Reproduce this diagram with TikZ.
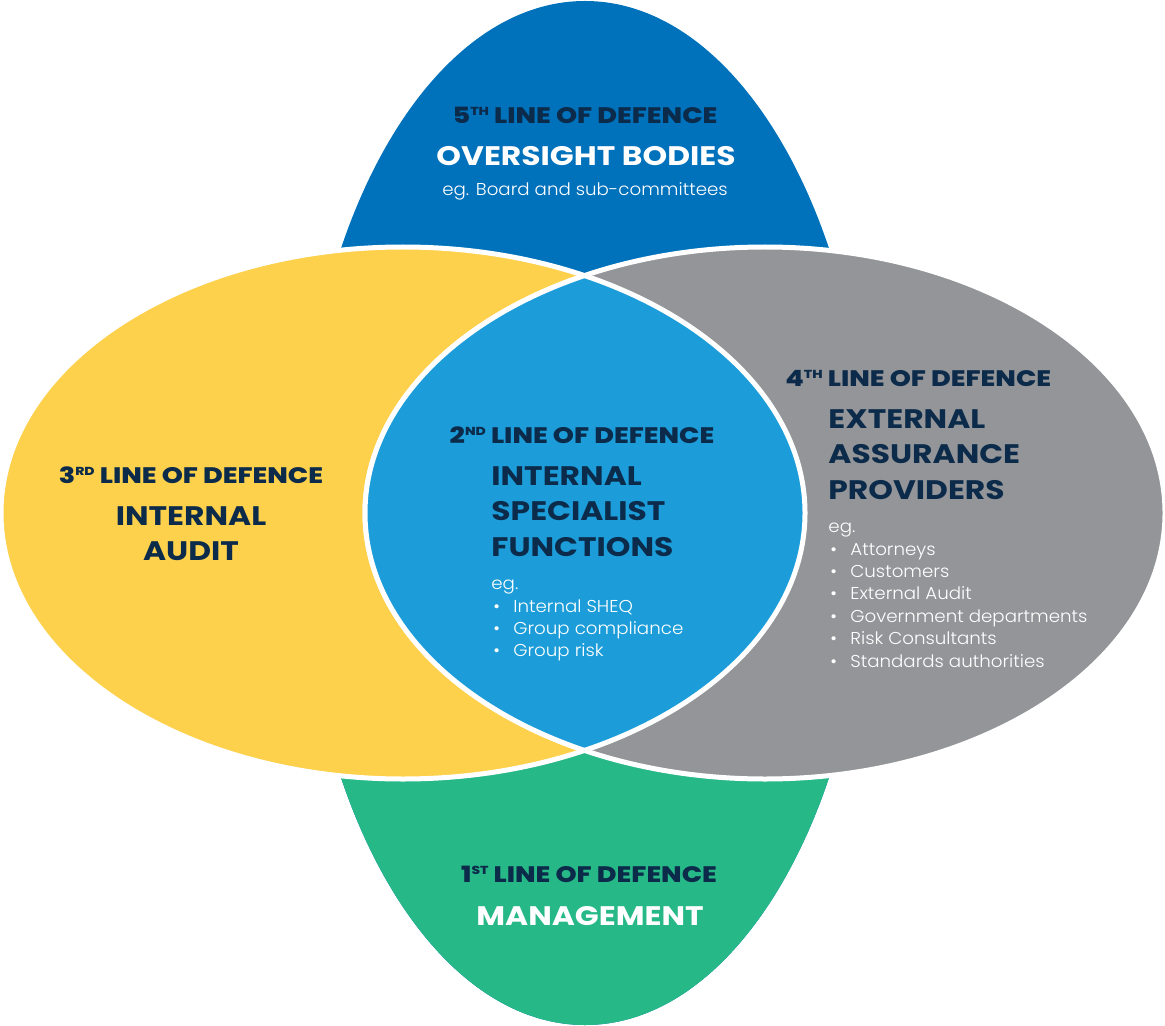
\documentclass[tikz,border=0pt]{standalone}
\usepackage{fontspec}
\setmainfont{Poppins}
\newfontfamily\headfont{Poppins ExtraBold}[FakeStretch=1.2]
\newfontfamily\titlefont{Poppins}[FakeStretch=1.17]
\newfontfamily\lightfont{Poppins Light}[FakeStretch=1.06]
\usetikzlibrary{positioning}
\definecolor{topblue}{HTML}{0071BB}
\definecolor{lensblue}{HTML}{1C9DD9}
\definecolor{sunyellow}{HTML}{FDD14C}
\definecolor{stonegray}{HTML}{939598}
\definecolor{leafgreen}{HTML}{26B886}
\definecolor{navy}{HTML}{0C2B4A}
\newcommand{\lsup}[1]{\raisebox{4pt}{\fontsize{5.8}{6}\selectfont #1}}
\tikzset{rim/.style = {draw=white, line width=2.5pt}}
\tikzset{lod/.style = {inner sep=0, anchor=base, text=navy, font=\headfont\fontsize{11.2}{12}\selectfont}}
\tikzset{ttl/.style = {inner sep=0, anchor=base, text=navy, font=\titlefont\bfseries\fontsize{13.4}{14}\selectfont}}
\tikzset{body/.style = {inner sep=0, anchor=base, text=white, font=\lightfont\fontsize{8.6}{10}\selectfont}}
\tikzset{item/.style = {body, anchor=base west}}

\begin{document}
\begin{tikzpicture}[x=0.5pt, y=-0.5pt]
  \useasboundingbox (0,0) rectangle (1165,1026);

  % oversight / management ellipse
  \fill[topblue] (585,513) ellipse [x radius=285, y radius=512];
  \begin{scope}
    \clip (0,513) rectangle (1165,1026);
    \fill[leafgreen] (585,513) ellipse [x radius=285, y radius=512];
  \end{scope}

  % internal audit and external assurance
  \draw[rim, fill=sunyellow] (403,513) ellipse [x radius=402, y radius=266];
  \draw[rim, fill=stonegray] (765,513) ellipse [x radius=400, y radius=266];

  % overlap
  \begin{scope}
    \clip (403,513) ellipse [x radius=402, y radius=266];
    \draw[rim, fill=lensblue] (765,513) ellipse [x radius=400, y radius=266];
  \end{scope}
  \begin{scope}
    \clip (765,513) ellipse [x radius=400, y radius=266];
    \draw[rim] (403,513) ellipse [x radius=402, y radius=266];
  \end{scope}

  % 5th line
  \node [lod] (lod5) at (585,124) {5\lsup{TH} LINE OF DEFENCE};
  \node [ttl, text=white] (oversight) at (586,166) {OVERSIGHT BODIES};
  \node [body] (board) at (585,196) {eg. Board and sub-committees};

  % 3rd line
  \node [lod] (lod3) at (191,483) {3\lsup{RD} LINE OF DEFENCE};
  \node [ttl] (audit1) at (191,525) {INTERNAL};
  \node [ttl] (audit2) at (191,560) {AUDIT};

  % 2nd line
  \node [lod] (lod2) at (582,443) {2\lsup{ND} LINE OF DEFENCE};
  \node [ttl, anchor=base west] (spec1) at (491,485) {INTERNAL};
  \node [ttl, anchor=base west] (spec2) at (491,520.5) {SPECIALIST};
  \node [ttl, anchor=base west] (spec3) at (491,556) {FUNCTIONS};
  \node [item] (speceg) at (491,589) {eg.};
  \foreach \t [count=\i] in {Internal SHEQ, Group compliance, Group risk}
    \node [item] (spec-\i) at (491,590+22*\i) {\makebox[11pt][l]{\hspace{1pt}\textbullet}\t};

  % 4th line
  \node [lod, anchor=base west] (lod4) at (785,386) {4\lsup{TH} LINE OF DEFENCE};
  \node [ttl, anchor=base west] (ext1) at (828,428) {EXTERNAL};
  \node [ttl, anchor=base west] (ext2) at (828,463.5) {ASSURANCE};
  \node [ttl, anchor=base west] (ext3) at (828,499) {PROVIDERS};
  \node [item] (exteg) at (828,532) {eg.};
  \foreach \t [count=\i] in {Attorneys, Customers, External Audit, Government departments, Risk Consultants, Standards authorities}
    \node [item] (ext-\i) at (828,532.6+22.4*\i) {\makebox[11pt][l]{\hspace{1pt}\textbullet}\t};

  % 1st line
  \node [lod] (lod1) at (589,882) {1\lsup{ST} LINE OF DEFENCE};
  \node [ttl, text=white] (mgmt) at (590,925) {MANAGEMENT};
\end{tikzpicture}
\end{document}
